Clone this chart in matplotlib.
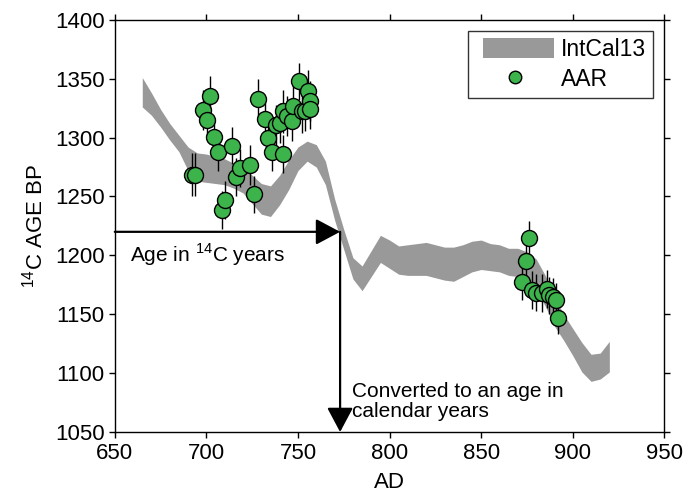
import numpy as np
import matplotlib
matplotlib.use("Agg")
import matplotlib.pyplot as plt
from matplotlib.patches import Patch, Rectangle
from matplotlib.lines import Line2D
from matplotlib.legend_handler import HandlerPatch

plt.rcParams["font.family"] = ["Liberation Sans", "DejaVu Sans"]
plt.rcParams["mathtext.fontset"] = "custom"
plt.rcParams["mathtext.rm"] = "Liberation Sans"

# IntCal13 band (upper / lower edge, 14C yr BP)
cal_years = [665, 670, 675, 680, 685, 690, 695, 700, 705, 710, 715, 720, 725,
             730, 735, 740, 745, 750, 755, 760, 765, 770, 775, 780, 785, 790,
             795, 800, 805, 810, 815, 820, 825, 830, 835, 840, 845, 850, 855,
             860, 865, 870, 875, 880, 885, 890, 895, 900, 905, 910, 915, 920]
cal_upper = [1351, 1338, 1324, 1312, 1302, 1292, 1287, 1286, 1284, 1282, 1278,
             1274, 1268, 1261, 1259, 1268, 1281, 1292, 1297, 1294, 1280, 1248,
             1222, 1198, 1191, 1204, 1217, 1213, 1208, 1209, 1210, 1211, 1209,
             1207, 1207, 1209, 1212, 1213, 1210, 1209, 1206, 1206, 1203, 1197,
             1183, 1165, 1150, 1138, 1126, 1116, 1117, 1127]
cal_lower = [1326, 1319, 1309, 1298, 1288, 1272, 1263, 1262, 1261, 1260, 1257,
             1253, 1244, 1235, 1233, 1243, 1256, 1272, 1280, 1275, 1260, 1230,
             1205, 1180, 1170, 1182, 1194, 1189, 1184, 1183, 1183, 1183, 1181,
             1179, 1178, 1182, 1186, 1188, 1187, 1186, 1183, 1182, 1178, 1170,
             1157, 1140, 1128, 1115, 1101, 1093, 1095, 1101]

# AAR measurements
aar_ad = [691.9, 693.7, 698.3, 700.1, 701.9, 704.3, 706.1, 708.3, 710.1, 714.1,
          716.1, 718.3, 723.8, 726.0, 728.0, 732.0, 733.8, 735.6, 737.8, 740.2,
          741.6, 742.0, 743.8, 746.6, 747.4, 750.5, 752.0, 754.0, 755.6, 756.6,
          756.6, 872.2, 874.4, 876.2, 878.0, 879.9, 883.5, 885.9, 887.3, 889.5,
          890.8, 892.2]
aar_age = [1268.6, 1268.6, 1323.7, 1315.3, 1335.0, 1300.6, 1287.9, 1238.4,
           1246.9, 1293.2, 1266.7, 1274.3, 1277.0, 1251.7, 1332.8, 1315.8,
           1299.7, 1287.5, 1311.0, 1312.5, 1322.3, 1286.2, 1318.0, 1313.8,
           1326.5, 1347.7, 1322.3, 1323.0, 1339.2, 1330.8, 1324.3, 1177.7,
           1195.2, 1214.4, 1170.6, 1168.4, 1167.8, 1171.2, 1166.0, 1165.0,
           1161.9, 1147.2]
aar_err = [18, 18, 17, 17, 17, 16, 16, 16, 16, 16, 16, 16, 17, 16, 17, 16,
           16, 16, 17, 17, 18, 16, 17, 17, 18, 16, 18, 17, 18, 17, 17, 16,
           16, 15, 16, 16, 16, 16, 16, 16, 15, 14]

calib_age = 1220
calib_ad = 773

BAND_COLOR = "#999999"
DOT_COLOR = "#3cb44b"


def band_handle(legend, orig_handle, xdescent, ydescent, width, height,
                fontsize):
    # gray swatch sits a bit right of the handle box start
    w = width * 0.9
    return Rectangle((-xdescent + width - w, -ydescent), w, height)


def main():
    fig = plt.figure(figsize=(7, 4.96), dpi=100)
    ax = fig.add_axes([0.164, 0.129, 0.785, 0.831])

    ax.fill_between(cal_years, cal_lower, cal_upper, color=BAND_COLOR,
                    linewidth=0, zorder=1)

    ax.errorbar(aar_ad, aar_age, yerr=aar_err, fmt="none", ecolor="black",
                elinewidth=1, capsize=0, zorder=2)
    ax.plot(aar_ad, aar_age, "o", markersize=11.5, markerfacecolor=DOT_COLOR,
            markeredgecolor="black", markeredgewidth=1, zorder=3)

    arrow = dict(arrowstyle="-|>,head_length=0.75,head_width=0.4",
                 mutation_scale=20, lw=1.6, color="black",
                 shrinkA=0, shrinkB=0)
    ax.annotate("", xy=(calib_ad, calib_age), xytext=(650, calib_age),
                arrowprops=arrow, zorder=5)
    ax.annotate("", xy=(calib_ad, 1050), xytext=(calib_ad, calib_age),
                arrowprops=arrow, zorder=5)

    ax.text(658.5, 1200.5, r"Age in $^{\mathrm{14}}$C years", fontsize=15,
            ha="left", va="center")
    ax.text(779.5, 1076, "Converted to an age in\ncalendar years",
            fontsize=15, ha="left", va="center", linespacing=1.05)

    ax.set_xlim(650, 950)
    ax.set_ylim(1050, 1400)
    ax.set_xticks(np.arange(650, 951, 50))
    ax.set_yticks(np.arange(1050, 1401, 50))
    ax.tick_params(direction="out", length=4, width=1, labelsize=16,
                   top=True, right=True, labeltop=False, labelright=False)
    ax.tick_params(axis="x", pad=4)
    for s in ax.spines.values():
        s.set_linewidth(1)

    ax.set_xlabel("AD", fontsize=16, labelpad=6)
    ax.set_ylabel(r"$^{\mathrm{14}}$C AGE BP", fontsize=16, labelpad=5)

    handles = [
        Patch(facecolor=BAND_COLOR, edgecolor="none", label="IntCal13"),
        Line2D([], [], marker="o", linestyle="none", markersize=9,
               markerfacecolor=DOT_COLOR, markeredgecolor="black",
               markeredgewidth=1, label="AAR"),
    ]
    leg = ax.legend(handles=handles, loc="upper right",
                    bbox_to_anchor=(0.98, 0.972), borderaxespad=0,
                    fontsize=16.5, fancybox=False, framealpha=1,
                    edgecolor="#333333", handlelength=3.45, handleheight=0.95,
                    handletextpad=0.3, labelspacing=0.3, borderpad=0.3,
                    handler_map={Patch: HandlerPatch(patch_func=band_handle)})
    for h in leg.legend_handles[:1]:
        h.set_facecolor(BAND_COLOR)
        h.set_edgecolor("none")
    leg.get_frame().set_linewidth(1)

    fig.savefig("out.png", dpi=100)
    plt.close(fig)


if __name__ == "__main__":
    main()
